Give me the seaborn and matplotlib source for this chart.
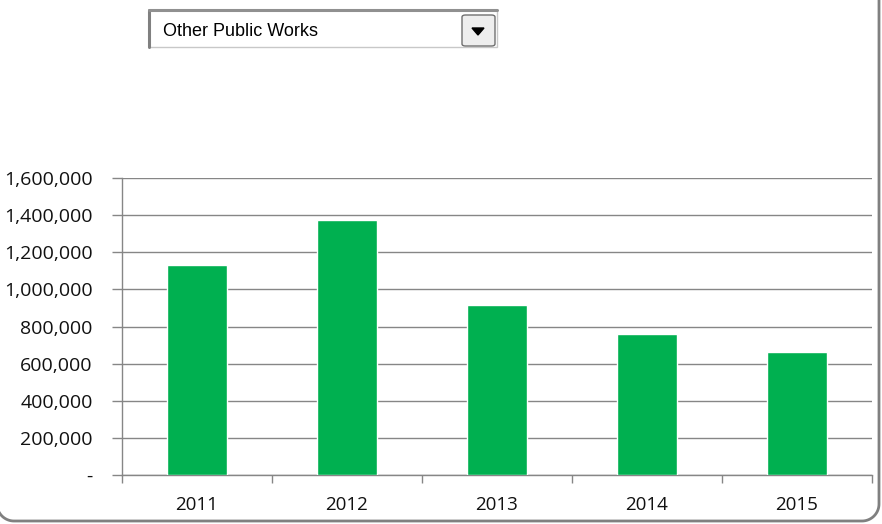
import seaborn as sns
import matplotlib.pyplot as plt
import pandas as pd
import numpy as np
from matplotlib.patches import FancyBboxPatch, Rectangle, Polygon
from matplotlib.lines import Line2D
from matplotlib.ticker import FuncFormatter, FixedLocator

# data
years = ["2011", "2012", "2013", "2014", "2015"]
values = [1132000, 1375000, 916000, 760000, 663000]
selected = "Other Public Works"

df = pd.DataFrame({"year": years, "value": values})

sns.set_theme(style="white")
plt.rcParams["font.family"] = ["Open Sans", "DejaVu Sans"]

W, H = 882, 524
fig = plt.figure(figsize=(W / 100, H / 100), dpi=100)
ax = fig.add_axes([122 / W, (H - 475) / H, 750 / W, 297 / H])

sns.barplot(data=df, x="year", y="value", color="#00B050", width=0.4,
            saturation=1, ax=ax, zorder=3)

ax.set_ylim(0, 1600000)
ax.set_xlim(-0.5, len(years) - 0.5)
ax.set_yticks(np.arange(0, 1600001, 200000))
ax.yaxis.set_major_formatter(FuncFormatter(lambda v, p: "-" if v == 0 else f"{v:,.0f}"))
ax.yaxis.grid(True, color="#868686", linewidth=1)
ax.set_axisbelow(True)
ax.set_xlabel("")
ax.set_ylabel("")

for s in ["top", "right"]:
    ax.spines[s].set_visible(False)
for s in ["left", "bottom"]:
    ax.spines[s].set_color("#868686")
    ax.spines[s].set_linewidth(1)

ax.tick_params(axis="y", which="major", left=True, length=7, width=1,
               color="#868686", labelsize=14, labelcolor="#111111", pad=14)
ax.tick_params(axis="x", which="major", bottom=False, labelsize=13.5,
               labelcolor="#111111", pad=9)
ax.xaxis.set_minor_locator(FixedLocator(np.arange(-0.5, len(years), 1.0)))
ax.tick_params(axis="x", which="minor", bottom=True, length=6, width=1,
               color="#868686")

# chart frame: rounded outline, top and left edges fall outside the picture
r = 17
x0, x1, ybot, ytop = -3, 879, 521, -6  # pixels from top-left
t = np.linspace(0, np.pi / 2, 20)
left_x = x0 + r - r * np.cos(t)
left_y = ybot - r + r * np.sin(t)
right_x = x1 - r + r * np.sin(t)
right_y = ybot - r + r * np.cos(t)
px = np.concatenate([[x0], left_x, right_x, [x1]])
py = np.concatenate([[ytop], left_y, right_y, [ytop]])
fig.lines.append(Line2D(px / W, 1 - py / H, transform=fig.transFigure,
                        color="#808080", linewidth=2, solid_joinstyle="round"))

# dropdown control
box = Rectangle((149 / W, (H - 47) / H), 348 / W, 37 / H, transform=fig.transFigure,
                facecolor="white", edgecolor="#c8c8c8", linewidth=1)
fig.patches.append(box)
fig.lines.append(Line2D([149 / W, 149 / W], [(H - 47) / H, (H - 10) / H],
                        transform=fig.transFigure, color="#808080", linewidth=2.2))
fig.lines.append(Line2D([149 / W, 497 / W], [(H - 10) / H, (H - 10) / H],
                        transform=fig.transFigure, color="#909090", linewidth=2.2))
btn = FancyBboxPatch((462 / W, (H - 46) / H), 33 / W, 31 / H, transform=fig.transFigure,
                     boxstyle="round,pad=0,rounding_size=0.004",
                     facecolor="#eeeeee", edgecolor="#707070", linewidth=1)
fig.patches.append(btn)
tri = Polygon([(472 / W, (H - 28) / H), (484 / W, (H - 28) / H), (478 / W, (H - 35) / H)],
              closed=True, transform=fig.transFigure, facecolor="black", edgecolor="black")
fig.patches.append(tri)
fig.text(163 / W, (H - 31) / H, selected, fontsize=13, va="center", ha="left",
         color="#000000", family=["Liberation Sans", "DejaVu Sans"])

fig.savefig("out.png", dpi=100)
